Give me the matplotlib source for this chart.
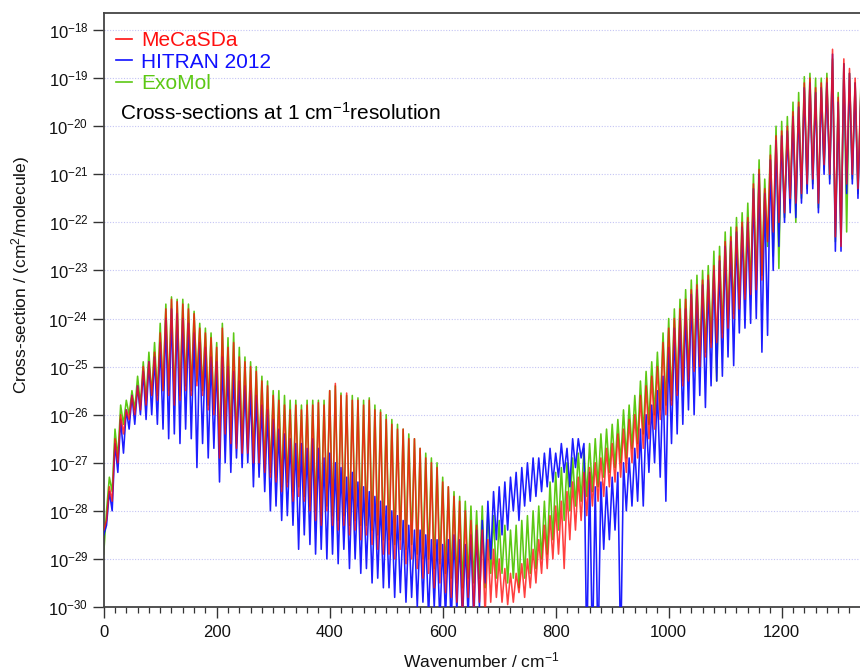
import numpy as np
import matplotlib
matplotlib.use("Agg")
import matplotlib.pyplot as plt
from matplotlib.ticker import MultipleLocator, FixedLocator, NullLocator
from matplotlib.lines import Line2D

plt.rcParams['font.family'] = ['Liberation Sans', 'DejaVu Sans']
plt.rcParams['mathtext.default'] = 'regular'

# ---------------- data ----------------
# wavenumber grid (cm-1), one value every 5 cm-1 from 0 to 1350
wavenumber = np.arange(0, 1351, 5)

series_names = ["MeCaSDa", "HITRAN 2012", "ExoMol"]
series_colors = ["#ff1010", "#1010ff", "#5cc814"]

# log10 of cross-section (cm^2/molecule)
mecasda_log10 = [
    -28.4, -28.2, -27.5, -27.8, -26.5, -27.0, -26.0, -26.4, -25.9, -26.1,
    -25.6, -26.0, -25.4, -25.9, -25.0, -25.8, -24.9, -25.6, -24.7, -25.7,
    -24.3, -25.5, -23.8, -25.6, -23.6, -25.8, -23.65, -25.7, -23.7, -25.5,
    -23.8, -25.6, -23.9, -25.4, -24.2, -25.6, -24.3, -25.9, -24.4, -26.0,
    -24.6, -26.9, -24.2, -26.4, -24.6, -26.6, -24.5, -26.7, -24.8, -26.8,
    -24.9, -26.8, -25.0, -27.0, -25.1, -27.0, -25.3, -27.2, -25.4, -27.3,
    -25.6, -27.4, -25.7, -27.6, -25.8, -27.5, -25.9, -27.8, -25.8, -27.7,
    -25.9, -27.8, -25.8, -28.0, -25.8, -28.2, -25.75, -28.3, -25.8, -28.0,
    -25.5, -28.3, -25.35, -28.4, -25.6, -28.3, -25.55, -28.5, -25.7, -28.4,
    -25.7, -28.6, -25.8, -28.5, -25.7, -28.7, -25.9, -28.8, -25.95, -28.9,
    -26.1, -28.9, -26.2, -29.0, -26.3, -28.8, -26.3, -29.1, -26.5, -29.0,
    -26.5, -29.2, -26.7, -29.4, -26.9, -29.3, -27.0, -29.6, -27.1, -29.5,
    -27.4, -29.7, -27.5, -29.8, -27.7, -29.9, -27.8, -30.2, -28.0, -29.8,
    -28.2, -30.1, -28.3, -29.9, -28.4, -30.2, -28.6, -29.9, -28.8, -29.8,
    -29.0, -29.9, -29.2, -29.95, -29.3, -29.9, -29.3, -29.7, -29.1, -29.8,
    -29.0, -29.6, -28.8, -29.5, -28.6, -29.3, -28.3, -29.2, -28.1, -29.0,
    -27.9, -28.9, -27.8, -29.2, -27.6, -28.6, -27.4, -28.4, -27.3, -28.2,
    -27.2, -28.1, -27.1, -27.9, -27.0, -27.8, -26.9, -27.7, -26.7, -27.5,
    -26.6, -27.4, -26.4, -27.3, -26.3, -27.2, -26.1, -27.0, -26.0, -26.9,
    -25.6, -26.7, -25.4, -26.5, -25.2, -26.3, -25.0, -26.1, -24.5, -26.0,
    -24.2, -25.8, -24.0, -25.6, -23.8, -25.4, -23.6, -25.3, -23.4, -25.1,
    -23.3, -25.0, -23.2, -24.8, -23.1, -24.6, -22.9, -24.5, -22.7, -24.4,
    -22.4, -24.2, -22.3, -24.0, -22.1, -23.8, -22.0, -23.6, -21.9, -23.5,
    -21.2, -23.4, -20.9, -23.2, -21.3, -22.4, -20.6, -22.2, -20.2, -22.0,
    -20.1, -21.8, -20.0, -21.5, -19.7, -21.6, -19.5, -21.4, -19.1, -21.2,
    -19.0, -21.1, -19.2, -21.6, -19.1, -20.8, -19.0, -21.0, -18.4, -22.3,
    -19.4, -22.5, -18.6, -21.2, -18.8, -21.0, -19.0, -21.3, -19.3, -21.0,
    -19.5,
]

hitran_log10 = [
    -28.5, -28.3, -27.6, -28.0, -26.6, -27.2, -26.1, -26.8, -25.9, -26.3,
    -25.6, -26.2, -25.4, -26.0, -25.1, -26.1, -24.9, -26.0, -24.8, -26.2,
    -24.5, -26.3, -24.0, -26.5, -23.8, -26.4, -23.9, -26.6, -24.0, -26.3,
    -24.1, -26.5, -24.3, -27.1, -24.5, -26.6, -24.6, -26.9, -24.8, -26.7,
    -24.9, -27.4, -24.8, -27.0, -25.0, -27.2, -25.1, -26.9, -25.3, -27.1,
    -25.4, -27.0, -25.5, -27.5, -25.6, -27.3, -25.8, -27.6, -25.9, -28.0,
    -26.1, -27.9, -26.3, -28.2, -26.4, -28.1, -26.5, -28.3, -26.6, -28.8,
    -26.6, -28.5, -26.7, -28.7, -26.5, -28.9, -26.7, -28.8, -26.9, -29.0,
    -26.8, -28.9, -27.0, -29.1, -27.1, -28.8, -27.3, -29.2, -27.2, -29.0,
    -27.4, -29.3, -27.5, -29.2, -27.6, -29.5, -27.7, -29.4, -27.8, -29.6,
    -27.9, -29.6, -28.0, -29.8, -28.1, -29.7, -28.2, -29.9, -28.3, -29.8,
    -28.4, -30.0, -28.4, -29.9, -28.5, -30.2, -28.6, -30.0, -28.6, -30.3,
    -28.7, -30.2, -28.6, -30.4, -28.5, -30.1, -28.6, -30.3, -28.7, -30.2,
    -28.5, -30.3, -28.4, -30.0, -28.2, -29.5, -27.8, -29.0, -27.6, -28.6,
    -27.5, -28.5, -27.4, -28.4, -27.3, -28.0, -27.2, -28.2, -27.1, -27.9,
    -27.0, -27.8, -26.9, -27.7, -26.9, -27.6, -26.8, -27.5, -26.7, -27.4,
    -26.8, -27.3, -26.6, -27.2, -26.7, -27.5, -26.5, -27.1, -26.5, -26.9,
    -26.6, -31.0, -27.2, -31.0, -27.5, -31.0, -27.4, -28.8, -27.5, -28.6,
    -27.3, -28.4, -27.2, -31.0, -27.0, -28.0, -26.9, -27.9, -26.7, -27.8,
    -26.3, -27.9, -26.0, -27.2, -25.8, -27.0, -25.5, -27.3, -25.2, -27.8,
    -24.6, -26.6, -24.2, -26.4, -24.0, -26.2, -23.8, -25.9, -23.5, -26.0,
    -23.4, -25.6, -23.3, -25.85, -23.2, -25.4, -23.0, -25.3, -22.8, -25.2,
    -22.5, -24.8, -22.4, -24.98, -22.2, -24.3, -22.1, -24.2, -22.0, -24.1,
    -21.3, -24.0, -21.0, -24.7, -21.4, -24.35, -20.7, -23.0, -20.3, -22.5,
    -20.2, -22.0, -20.1, -21.8, -19.8, -21.9, -19.6, -21.6, -19.2, -21.4,
    -19.1, -21.3, -19.3, -21.8, -19.2, -21.0, -19.1, -21.2, -18.5, -22.6,
    -19.5, -22.6, -18.7, -21.4, -18.9, -21.2, -19.1, -21.5, -19.4, -21.1,
    -19.6,
]

exomol_log10 = [
    -28.9, -28.0, -27.3, -27.6, -26.3, -26.9, -25.8, -26.2, -25.7, -26.0,
    -25.5, -25.9, -25.2, -25.8, -24.9, -25.7, -24.7, -25.6, -24.5, -25.6,
    -24.1, -25.5, -23.7, -25.5, -23.55, -25.7, -23.6, -25.6, -23.6, -25.4,
    -23.7, -25.5, -23.85, -25.3, -24.1, -25.5, -24.2, -25.8, -24.3, -25.9,
    -24.5, -26.7, -24.1, -26.3, -24.4, -26.5, -24.3, -26.6, -24.6, -26.7,
    -24.8, -26.7, -24.9, -26.9, -25.0, -26.9, -25.2, -27.1, -25.3, -27.2,
    -25.5, -27.3, -25.5, -27.5, -25.6, -27.4, -25.7, -27.6, -25.7, -27.5,
    -25.8, -27.7, -25.7, -27.9, -25.7, -28.0, -25.7, -28.1, -25.7, -27.9,
    -25.5, -28.1, -25.4, -28.2, -25.55, -28.1, -25.6, -28.3, -25.6, -28.2,
    -25.65, -28.3, -25.7, -28.3, -25.65, -28.4, -25.8, -28.5, -25.9, -28.6,
    -26.0, -28.6, -26.1, -28.7, -26.2, -28.6, -26.3, -28.8, -26.4, -28.7,
    -26.5, -28.9, -26.7, -29.0, -26.8, -29.0, -26.9, -29.2, -27.0, -29.1,
    -27.3, -29.3, -27.5, -29.4, -27.6, -29.5, -27.7, -29.6, -27.8, -29.4,
    -27.9, -29.5, -28.0, -29.4, -27.9, -29.6, -28.0, -29.3, -28.1, -29.4,
    -28.2, -29.3, -28.3, -29.5, -28.4, -29.4, -28.3, -29.6, -28.2, -29.4,
    -28.1, -29.3, -28.0, -29.2, -27.9, -29.0, -27.8, -28.9, -27.4, -28.6,
    -27.2, -28.4, -27.1, -28.2, -27.0, -28.0, -26.9, -27.9, -26.8, -27.8,
    -26.7, -27.7, -26.6, -27.6, -26.5, -27.5, -26.4, -27.3, -26.3, -27.2,
    -26.2, -27.1, -26.1, -27.0, -25.9, -26.9, -25.8, -26.7, -25.6, -26.6,
    -25.3, -26.4, -25.1, -26.2, -24.9, -26.0, -24.7, -25.9, -24.3, -25.8,
    -24.0, -25.7, -23.8, -25.5, -23.6, -25.3, -23.4, -25.2, -23.2, -25.0,
    -23.1, -24.9, -23.0, -24.7, -22.9, -24.5, -22.6, -25.3, -22.5, -24.3,
    -22.2, -24.1, -22.1, -23.9, -21.9, -23.7, -21.8, -23.5, -21.6, -23.4,
    -21.0, -23.3, -20.7, -23.1, -21.1, -22.5, -20.4, -22.7, -20.0, -22.96,
    -19.9, -21.9, -19.8, -21.6, -19.5, -22.0, -19.3, -21.5, -18.97, -21.3,
    -18.9, -21.2, -19.0, -21.7, -19.0, -20.9, -18.9, -21.1, -18.6, -22.4,
    -19.3, -22.4, -18.7, -22.2, -18.9, -21.1, -19.1, -21.4, -19.2, -21.1,
    -19.4,
]

xticks_major = [0, 200, 400, 600, 800, 1000, 1200]
yticks_major = [1e-30, 1e-29, 1e-28, 1e-27, 1e-26, 1e-25, 1e-24,
                1e-23, 1e-22, 1e-21, 1e-20, 1e-19, 1e-18]

# ---------------- figure ----------------
W, H = 860, 670
fig = plt.figure(figsize=(W / 100, H / 100), dpi=100)
left_px, right_px, top_px, bottom_px = 103.7, 860, 13.3, 607
ax = fig.add_axes([left_px / W, (H - bottom_px) / H,
                   (right_px - left_px) / W, (bottom_px - top_px) / H])

y_red = 10.0 ** np.array(mecasda_log10)
y_blue = 10.0 ** np.array(hitran_log10)
y_green = 10.0 ** np.array(exomol_log10)

ax.plot(wavenumber, y_green, color=series_colors[2], lw=1.15, zorder=2)
ax.plot(wavenumber, y_blue, color=series_colors[1], lw=1.15, alpha=0.95, zorder=3)
ax.plot(wavenumber, y_red, color=series_colors[0], lw=1.15, alpha=0.8, zorder=4)

ax.set_yscale('log')
ax.set_xlim(0, 1338.6)
ax.set_ylim(1e-30, 10 ** -17.652)

ax.yaxis.set_major_locator(FixedLocator(yticks_major))
ax.yaxis.set_minor_locator(NullLocator())
ax.set_xticks(xticks_major)
ax.xaxis.set_minor_locator(MultipleLocator(20))

ax.tick_params(axis='both', which='major', direction='out', labelsize=12,
               width=1.0, color='#333333', labelcolor='#111111')
ax.tick_params(axis='y', which='major', length=8, pad=3)
ax.tick_params(axis='x', which='major', length=8, pad=5)
ax.tick_params(axis='x', which='minor', direction='out', length=4, width=0.9, color='#333333')

for side in ['left', 'bottom', 'top']:
    ax.spines[side].set_linewidth(1.3)
    ax.spines[side].set_color('#444444')
ax.spines['right'].set_visible(False)

ax.yaxis.grid(True, which='major', linestyle=(0, (1, 1.5)), color='#c4c4f4', linewidth=0.8)
ax.set_axisbelow(True)

# legend
handles = [Line2D([], [], color=c, lw=1.2) for c in series_colors]
leg = fig.legend(handles, series_names, loc='upper left',
                 bbox_to_anchor=(116 / W, 1 - 31 / H), frameon=False,
                 fontsize=15, handlelength=0.75, handletextpad=0.45,
                 labelspacing=0.13, borderpad=0.0, borderaxespad=0.0)
for txt, c in zip(leg.get_texts(), series_colors):
    txt.set_color(c)

fig.text(120 / W, 1 - 113 / H, "Cross-sections at 1 cm$^{-1}$resolution",
         fontsize=15, color='black', ha='left', va='center')

fig.text(481 / W, 1 - 660 / H, "Wavenumber / cm$^{-1}$", fontsize=12.5,
         ha='center', va='center', color='#111111')
fig.text(21 / W, 1 - 275 / H, "Cross-section / (cm$^{2}$/molecule)", fontsize=12.5,
         ha='center', va='center', rotation=90, color='#111111')

fig.savefig("out.png", dpi=100)
